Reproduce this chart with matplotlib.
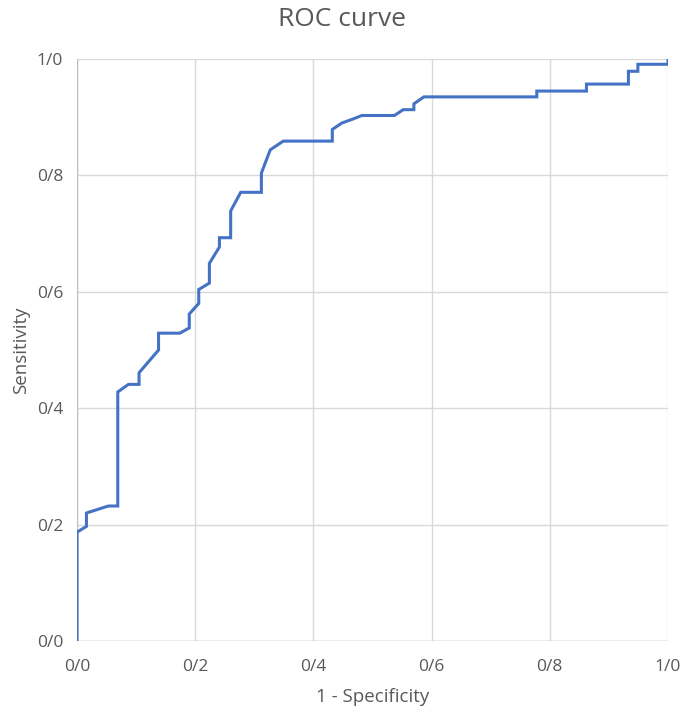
import matplotlib
matplotlib.use("Agg")
import matplotlib.pyplot as plt

# ROC points (1 - specificity, sensitivity)
fpr = [0.0, 0.0, 0.016, 0.016, 0.053, 0.069, 0.069, 0.087, 0.105, 0.105,
       0.138, 0.138, 0.174, 0.190, 0.190, 0.206, 0.206, 0.224, 0.224, 0.241,
       0.241, 0.260, 0.260, 0.277, 0.312, 0.312, 0.327, 0.349, 0.432, 0.432,
       0.448, 0.467, 0.482, 0.537, 0.552, 0.570, 0.570, 0.587, 0.778, 0.778,
       0.862, 0.862, 0.933, 0.933, 0.949, 0.949, 1.0, 1.0]
tpr = [0.0, 0.187, 0.197, 0.220, 0.232, 0.232, 0.428, 0.441, 0.441, 0.461,
       0.500, 0.529, 0.529, 0.538, 0.562, 0.580, 0.604, 0.615, 0.649, 0.677,
       0.693, 0.693, 0.739, 0.771, 0.771, 0.804, 0.844, 0.859, 0.859, 0.879,
       0.890, 0.897, 0.903, 0.903, 0.913, 0.913, 0.923, 0.935, 0.935, 0.945,
       0.945, 0.957, 0.957, 0.979, 0.979, 0.991, 0.991, 1.0]

ticks = [0.0, 0.2, 0.4, 0.6, 0.8, 1.0]
tick_labels = ["0/0", "0/2", "0/4", "0/6", "0/8", "1/0"]

plt.rcParams['font.family'] = ['Open Sans', 'DejaVu Sans']
text_color = '#595959'

fig = plt.figure(figsize=(6.85, 7.14), dpi=100)
ax = fig.add_axes([0.1124, 0.1022, 0.8628, 0.8151])

ax.plot(fpr, tpr, color='#4472C4', linewidth=2.2, solid_joinstyle='miter', zorder=3)

ax.set_xlim(0, 1)
ax.set_ylim(0, 1)
ax.set_xticks(ticks)
ax.set_xticklabels(tick_labels)
ax.set_yticks(ticks)
ax.set_yticklabels(tick_labels)
ax.tick_params(length=0, labelsize=12.5, colors=text_color)
ax.tick_params(axis='x', pad=13)
ax.tick_params(axis='y', pad=10)

ax.grid(True, color='#d9d9d9', linewidth=1.0)
for s in ax.spines.values():
    s.set_visible(False)
ax.axhline(0, color='#bfbfbf', linewidth=1.0, zorder=2)
ax.axvline(0, color='#bfbfbf', linewidth=1.0, zorder=2)
ax.set_axisbelow(True)

ax.set_xlabel('1 - Specificity', fontsize=13.5, color=text_color, labelpad=9)
ax.set_ylabel('Sensitivity', fontsize=13.5, color=text_color, labelpad=5)
fig.text(0.5, 0.972, 'ROC curve', ha='center', va='center', fontsize=19, color=text_color)

fig.savefig('out.png', dpi=100)
